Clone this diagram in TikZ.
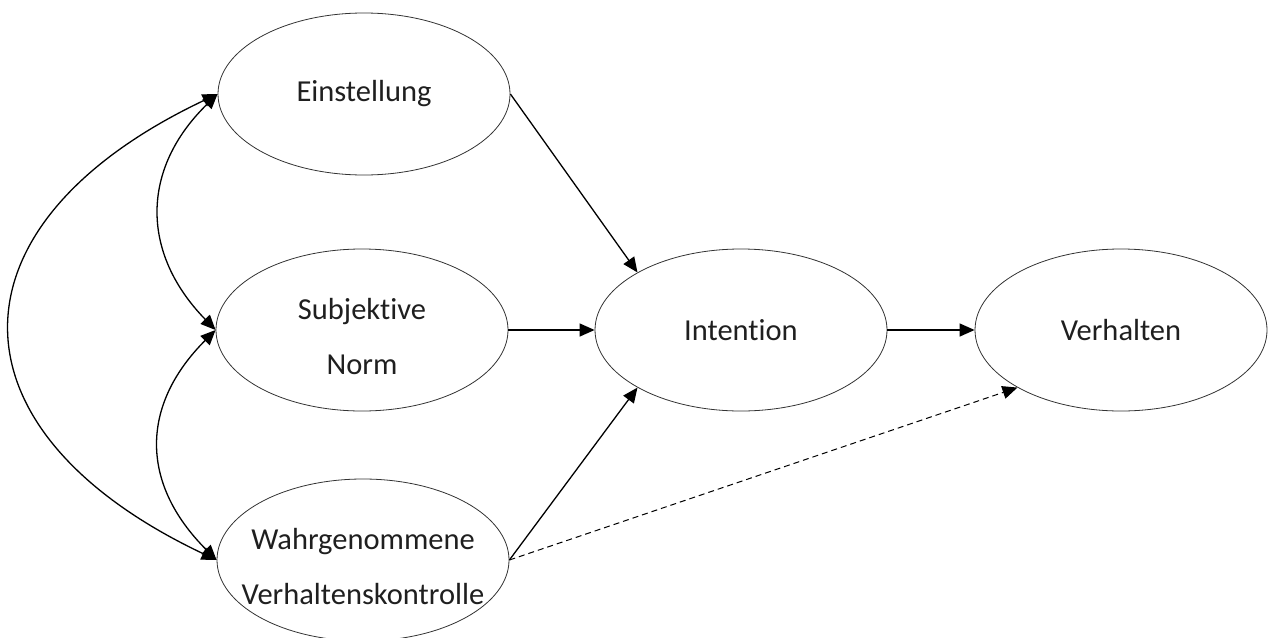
\documentclass[tikz,border=0pt]{standalone}
\usepackage{fontspec}
\setmainfont[Ligatures=NoCommon]{Carlito}
\usetikzlibrary{shapes.geometric,arrows.meta}
\newcommand{\zw}[1]{\makebox[0pt]{#1}}
\begin{document}
\begin{tikzpicture}[x=1pt,y=-1pt,
  ell/.style={ellipse,draw=black!80,line width=0.8pt,inner sep=0pt,
    minimum width=292pt,minimum height=162pt,align=center,
    font=\fontsize{30.5}{55}\selectfont,text=black!88},
  arr/.style={line width=1.3pt,-{Triangle[length=15pt,width=13pt]}},
  darr/.style={line width=1.3pt,{Triangle[length=15pt,width=13pt]}-{Triangle[length=15pt,width=13pt]}},
  dsh/.style={arr,line width=1pt,dash pattern=on 6pt off 4pt}]
\useasboundingbox (0,0) rectangle (1268,637);
\clip (0,0) rectangle (1268,637);
\node[ell] (ein) at (364,94) {Einstellung};
\node[ell] (sn) at (362,330) {\rule{0pt}{35pt}\zw{Subjektive}\\\zw{Norm}};
\node[ell] (wv) at (363,560) {\rule{0pt}{35pt}\zw{Wahrgenommene}\\\zw{Verhaltenskontrolle}};
\node[ell] (int) at (741,330) {Intention};
\node[ell] (ver) at (1121,330) {Verhalten};
\draw[arr] (ein.east) -- (int.north west);
\draw[arr] (sn.east) -- (int.west);
\draw[arr] (wv.east) -- (int.south west);
\draw[arr] (int.east) -- (ver.west);
\draw[dsh] (wv.east) -- (ver.south west);
\draw[darr] (ein.west) .. controls +(-77,75) and +(-75,-77) .. (sn.west);
\draw[darr] (sn.west) .. controls +(-75,75) and +(-77,-77) .. (wv.west);
\draw[darr] (ein.west) .. controls +(-275,130) and +(-275,-130) .. (wv.west);
\end{tikzpicture}
\end{document}
